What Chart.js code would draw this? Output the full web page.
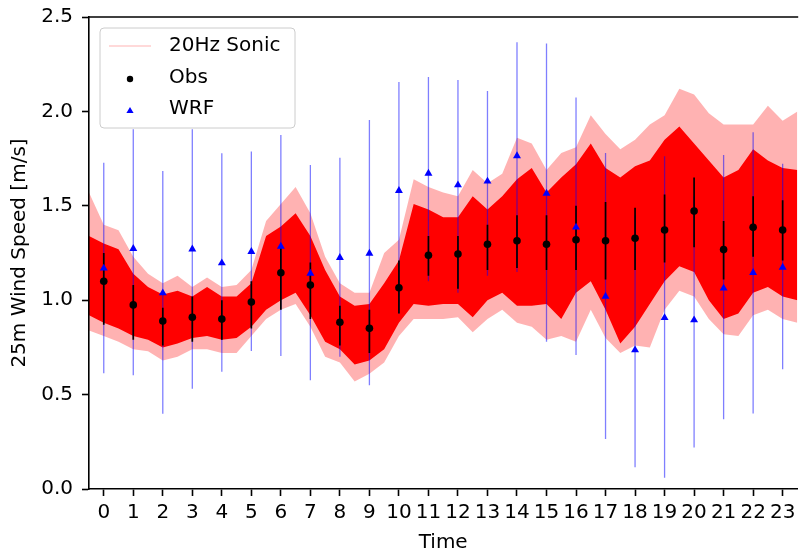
<!DOCTYPE html>
<html><head><meta charset="utf-8">
<script src="https://cdn.jsdelivr.net/npm/chart.js@4.4.1/dist/chart.umd.min.js"></script>
<style>html,body{margin:0;padding:0;overflow:hidden;background:#fff;width:800px;height:553px}canvas{display:block}</style>
</head><body>
<canvas id="c" width="802" height="555"></canvas>
<script>
// ---- data ----
const hours = [0,1,2,3,4,5,6,7,8,9,10,11,12,13,14,15,16,17,18,19,20,21,22,23];
const obsMean = [1.10,0.975,0.89,0.91,0.90,0.99,1.145,1.08,0.883,0.851,1.066,1.238,1.245,1.296,1.315,1.296,1.32,1.315,1.328,1.372,1.472,1.268,1.386,1.372];
const obsLow  = [0.87,0.79,0.76,0.78,0.79,0.85,0.95,0.90,0.76,0.72,0.93,1.13,1.06,1.16,1.17,1.16,1.16,1.11,1.16,1.20,1.28,1.11,1.23,1.21];
const obsHigh = [1.25,1.08,0.96,1.02,1.00,1.10,1.28,1.20,0.97,0.95,1.21,1.34,1.34,1.40,1.45,1.45,1.50,1.52,1.49,1.56,1.65,1.42,1.55,1.53];
const wrfMean = [1.169,1.273,1.038,1.27,1.197,1.257,1.285,1.142,1.225,1.248,1.58,1.672,1.61,1.63,1.764,1.566,1.386,1.02,0.736,0.907,0.895,1.063,1.146,1.174];
const wrfLow  = [0.613,0.602,0.399,0.531,0.621,0.731,0.704,0.576,0.70,0.549,0.93,1.10,1.04,1.13,1.15,0.78,0.71,0.265,0.115,0.06,0.22,0.37,0.40,0.634];
const wrfHigh = [1.728,1.905,1.684,1.905,1.778,1.788,1.875,1.716,1.755,1.954,2.156,2.182,2.166,2.108,2.366,2.359,2.073,1.78,1.45,1.762,1.55,1.769,1.89,1.723];

const sonicTime      = [-0.5,0,0.5,1,1.5,2,2.5,3,3.5,4,4.5,5,5.5,6,6.5,7,7.5,8,8.5,9,9.5,10,10.5,11,11.5,12,12.5,13,13.5,14,14.5,15,15.5,16,16.5,17,17.5,18,18.5,19,19.5,20,20.5,21,21.5,22,22.5,23,23.5];
const sonicSpikeHigh = [1.57,1.40,1.37,1.23,1.14,1.09,1.13,1.07,1.12,1.07,1.08,1.16,1.42,1.51,1.60,1.46,1.23,1.09,1.04,1.04,1.25,1.32,1.64,1.60,1.57,1.55,1.69,1.62,1.67,1.86,1.83,1.69,1.78,1.81,1.98,1.88,1.80,1.85,1.93,1.98,2.12,2.09,1.99,1.93,1.93,1.93,2.03,1.95,2.00];
const sonicCoreHigh  = [1.34,1.30,1.27,1.14,1.07,1.03,1.05,1.02,1.07,1.02,1.02,1.09,1.34,1.39,1.46,1.34,1.16,1.02,0.97,0.98,1.09,1.21,1.51,1.48,1.44,1.44,1.55,1.48,1.55,1.64,1.70,1.57,1.65,1.72,1.83,1.70,1.65,1.71,1.74,1.85,1.92,1.83,1.74,1.65,1.69,1.80,1.74,1.70,1.69];
const sonicCoreLow   = [0.92,0.88,0.85,0.81,0.79,0.75,0.77,0.80,0.81,0.79,0.80,0.86,0.95,1.00,1.04,0.92,0.78,0.74,0.66,0.68,0.74,0.88,0.98,0.97,0.98,0.98,0.91,1.00,1.04,0.97,0.97,0.98,0.90,1.04,1.10,0.95,0.77,0.86,0.98,1.10,1.18,1.15,1.00,0.90,0.93,1.04,1.07,1.02,1.00];
const sonicSpikeLow  = [0.84,0.81,0.78,0.74,0.73,0.68,0.70,0.74,0.74,0.72,0.72,0.81,0.90,0.95,0.98,0.86,0.70,0.67,0.57,0.61,0.67,0.81,0.90,0.90,0.90,0.91,0.83,0.90,0.95,0.88,0.86,0.79,0.81,0.78,0.95,0.80,0.72,0.76,0.75,0.95,1.05,1.02,0.90,0.82,0.81,0.92,0.95,0.90,0.88];

const xTicks = [0,1,2,3,4,5,6,7,8,9,10,11,12,13,14,15,16,17,18,19,20,21,22,23];
const yTicks = [0,0.5,1.0,1.5,2.0,2.5];

// ---- helpers ----
function pts(xs, ys){ return xs.map((x,i)=>({x:x, y:ys[i]})); }
function segs(xs, lo, hi){ const d=[]; xs.forEach((x,i)=>{ d.push({x:x,y:lo[i]},{x:x,y:hi[i]},{x:x,y:null}); }); return d; }

const FONT = 'DejaVu Sans';
const clear = 'rgba(0,0,0,0)';

const deco = {
  id:'deco',
  afterDraw(chart){
    const {ctx, chartArea:a} = chart;
    ctx.save();
    // top spine
    ctx.strokeStyle = '#000'; ctx.lineWidth = 1.6;
    ctx.beginPath(); ctx.moveTo(a.left-0.8, a.top); ctx.lineTo(a.right+0.8, a.top); ctx.stroke();
    // legend box
    const bx = a.left + 11, by = a.top + 11, bw = 195, bh = 100, r = 4;
    ctx.beginPath();
    ctx.moveTo(bx+r, by); ctx.lineTo(bx+bw-r, by); ctx.quadraticCurveTo(bx+bw, by, bx+bw, by+r);
    ctx.lineTo(bx+bw, by+bh-r); ctx.quadraticCurveTo(bx+bw, by+bh, bx+bw-r, by+bh);
    ctx.lineTo(bx+r, by+bh); ctx.quadraticCurveTo(bx, by+bh, bx, by+bh-r);
    ctx.lineTo(bx, by+r); ctx.quadraticCurveTo(bx, by, bx+r, by);
    ctx.closePath();
    ctx.fillStyle = 'rgba(255,255,255,0.8)'; ctx.fill();
    ctx.strokeStyle = '#cccccc'; ctx.lineWidth = 1; ctx.stroke();
    const labels = ['20Hz Sonic','Obs','WRF'];
    const rowY = [by+18, by+49.5, by+80.5];
    const mx = bx + 30;
    // sonic sample line
    ctx.strokeStyle = 'rgba(255,0,0,0.3)'; ctx.lineWidth = 1;
    ctx.beginPath(); ctx.moveTo(bx+9, rowY[0]); ctx.lineTo(bx+51, rowY[0]); ctx.stroke();
    // obs dot
    ctx.fillStyle = '#000'; ctx.beginPath(); ctx.arc(mx, rowY[1]+1.5, 3.2, 0, Math.PI*2); ctx.fill();
    // wrf triangle
    ctx.fillStyle = '#0000ff'; ctx.beginPath();
    ctx.moveTo(mx, rowY[2]-1.5); ctx.lineTo(mx+3.6, rowY[2]+4.5); ctx.lineTo(mx-3.6, rowY[2]+4.5); ctx.closePath(); ctx.fill();
    ctx.fillStyle = '#000'; ctx.font = '20px "' + FONT + '"'; ctx.textBaseline = 'middle'; ctx.textAlign = 'left';
    labels.forEach((t,i)=>ctx.fillText(t, bx+69, rowY[i]));
    ctx.restore();
  }
};

new Chart(document.getElementById('c'), {
  type:'line',
  data:{ datasets:[
    {label:'WRF', data:pts(hours,wrfMean), showLine:false, pointStyle:'triangle', pointRadius:4.6, pointBackgroundColor:'#0000ff', pointBorderColor:'#0000ff', pointBorderWidth:0},
    {label:'Obs', data:pts(hours,obsMean), showLine:false, pointStyle:'circle', pointRadius:3.8, pointBackgroundColor:'#000', pointBorderColor:'#000', pointBorderWidth:0},
    {label:'Obs range', data:segs(hours,obsLow,obsHigh), borderColor:'#000', borderWidth:1.7, pointRadius:0, fill:false},
    {label:'WRF range', data:segs(hours,wrfLow,wrfHigh), borderColor:'rgba(0,0,255,0.5)', borderWidth:1.3, pointRadius:0, fill:false},
    {label:'20Hz Sonic', data:pts(sonicTime,sonicCoreHigh), borderColor:clear, borderWidth:0, pointRadius:0, fill:'+1', backgroundColor:'#ff0000'},
    {label:'core low', data:pts(sonicTime,sonicCoreLow), borderColor:clear, borderWidth:0, pointRadius:0, fill:false},
    {label:'spike high', data:pts(sonicTime,sonicSpikeHigh), borderColor:clear, borderWidth:0, pointRadius:0, fill:'+1', backgroundColor:'rgba(255,0,0,0.3)'},
    {label:'spike low', data:pts(sonicTime,sonicSpikeLow), borderColor:clear, borderWidth:0, pointRadius:0, fill:false}
  ]},
  options:{
    responsive:false, animation:false, devicePixelRatio:1,
    layout:{padding:{top:17,right:1,left:0,bottom:0}},
    plugins:{legend:{display:false}, tooltip:{enabled:false}},
    scales:{
      x:{type:'linear', min:-0.5, max:23.5,
        afterFit(s){ s.height = 66; s.paddingLeft = 0; s.paddingRight = 0; },
        afterBuildTicks(s){ s.ticks = xTicks.map(v=>({value:v})); },
        ticks:{autoSkip:false, maxRotation:0, color:'#000', font:{family:FONT,size:20}, padding:5, callback:v=>String(v)},
        grid:{drawOnChartArea:false, drawTicks:true, tickLength:7, tickWidth:1.6, tickColor:'#000'},
        border:{display:true, color:'#000', width:1.6, z:1},
        title:{display:true, text:'Time', color:'#000', font:{family:FONT,size:20}, padding:{top:0,bottom:0}}
      },
      y:{type:'linear', min:0, max:2.5,
        afterFit(s){ s.width = 89; s.paddingTop = 0; s.paddingBottom = 0; },
        afterBuildTicks(s){ s.ticks = yTicks.map(v=>({value:v})); },
        ticks:{color:'#000', font:{family:FONT,size:20}, padding:9, callback:v=>Number(v).toFixed(1)},
        grid:{drawOnChartArea:false, drawTicks:true, tickLength:7, tickWidth:1.6, tickColor:'#000'},
        border:{display:true, color:'#000', width:1.6, z:1},
        title:{display:true, text:'25m Wind Speed [m/s]', color:'#000', font:{family:FONT,size:20}, padding:{top:8,bottom:0}}
      }
    }
  },
  plugins:[deco]
});
</script></body></html>
